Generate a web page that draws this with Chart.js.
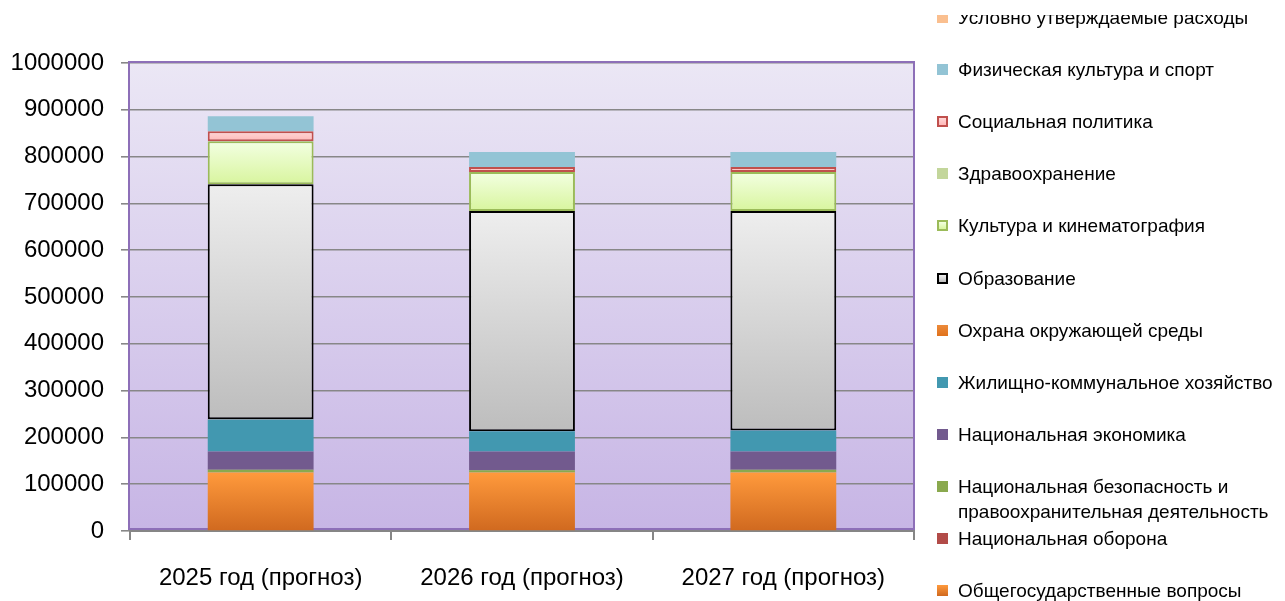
<!DOCTYPE html>
<html>
<head>
<meta charset="utf-8">
<script src="https://cdn.jsdelivr.net/npm/chart.js@4"></script>
<style>
  body { margin: 0; background: #fff; }
  #wrap { position: relative; width: 1285px; height: 601px; overflow: hidden; }
  #legend { position: absolute; left: 0; top: 15px; width: 1285px; height: 586px; overflow: hidden; pointer-events: none; }
  .item { position: absolute; left: 937px; font: 19px "Liberation Sans", Arial, sans-serif; color: #000; line-height: 25px; }
  .box { position: absolute; left: 0; top: 7px; width: 11px; height: 11px; box-sizing: border-box; }
  .txt { position: absolute; left: 21px; top: 0; white-space: pre; }
</style>
</head>
<body>
<div id="wrap">
  <canvas id="chart" width="1285" height="601"></canvas>
  <div id="legend"></div>
</div>
<script>
// categories and series, bottom of the stack first
var categories = ['2025 год (прогноз)', '2026 год (прогноз)', '2027 год (прогноз)'];

var obshchegos  = [125000, 125000, 125000];
var oborona     = [0, 0, 0];
var bezopasnost = [6000, 5000, 6000];
var ekonomika   = [39000, 40000, 39000];
var zhkh        = [68000, 43000, 45000];
var okhrana     = [1000, 0, 0];
var obrazovanie = [502000, 471000, 469000];
var kultura     = [92000, 83000, 83000];
var zdrav       = [0, 0, 0];
var socpol      = [21000, 11000, 11000];
var sport       = [32000, 32000, 32000];
var uslovno     = [0, 0, 0];

var yTicksMax = 1000000;
var yTicksStep = 100000;

var series = [
    { name: 'Общегосударственные вопросы', data: obshchegos, top: '#ff9a3c', bottom: '#d0691f', border: null },
    { name: 'Национальная оборона', data: oborona, top: '#b24b48', bottom: '#b24b48', border: null },
    { name: 'Национальная безопасность и\nправоохранительная деятельность', data: bezopasnost, top: '#8aa94e', bottom: '#8aa94e', border: null },
    { name: 'Национальная экономика', data: ekonomika, top: '#725a8e', bottom: '#725a8e', border: null },
    { name: 'Жилищно-коммунальное хозяйство', data: zhkh, top: '#4298b0', bottom: '#4298b0', border: null },
    { name: 'Охрана окружающей среды', data: okhrana, top: '#ec8a3a', bottom: '#e0721c', border: null },
    { name: 'Образование', data: obrazovanie, top: '#eeeeee', bottom: '#bdbdbd', border: '#000000' },
    { name: 'Культура и кинематография', data: kultura, top: '#f3ffe2', bottom: '#d8f59e', border: '#9bbb59' },
    { name: 'Здравоохранение', data: zdrav, top: '#c3d69b', bottom: '#c3d69b', border: null },
    { name: 'Социальная политика', data: socpol, top: '#ffd6d6', bottom: '#ffb9b9', border: '#c0504d' },
    { name: 'Физическая культура и спорт', data: sport, top: '#93c4d5', bottom: '#93c4d5', border: null },
    { name: 'Условно утверждаемые расходы', data: uslovno, top: '#fabf8f', bottom: '#fabf8f', border: null }
];

function segGradient(c, s) {
    var chart = c.chart;
    if (c.type !== 'data' || !chart.chartArea || !chart.scales.y) return s.bottom;
    var start = 0;
    for (var i = 0; i < c.datasetIndex; i++) start += series[i].data[c.dataIndex];
    var end = start + s.data[c.dataIndex];
    var y0 = chart.scales.y.getPixelForValue(end);
    var y1 = chart.scales.y.getPixelForValue(start);
    if (y1 - y0 < 1) return s.bottom;
    var g = chart.ctx.createLinearGradient(0, y0, 0, y1);
    g.addColorStop(0, s.top);
    g.addColorStop(1, s.bottom);
    return g;
}

var datasets = series.map(function (s) {
    return {
        label: s.name,
        data: s.data,
        backgroundColor: function (c) { return segGradient(c, s); },
        borderColor: s.border || 'rgba(0,0,0,0)',
        borderWidth: s.border ? 2 : 0,
        borderSkipped: false,
        categoryPercentage: 1,
        barPercentage: 0.405
    };
});

var plotBg = {
    id: 'plotBg',
    beforeDraw: function (chart) {
        var ctx = chart.ctx, a = chart.chartArea;
        var g = ctx.createLinearGradient(0, a.top, 0, a.bottom);
        g.addColorStop(0, '#ebe7f5');
        g.addColorStop(1, '#c7b5e5');
        ctx.save();
        ctx.fillStyle = g;
        ctx.fillRect(a.left, a.top, a.right - a.left, a.bottom - a.top);
        ctx.restore();
    },
    beforeDatasetsDraw: function (chart) {
        var ctx = chart.ctx, a = chart.chartArea;
        ctx.save();
        ctx.strokeStyle = '#8d6fb8';
        ctx.lineWidth = 2;
        ctx.strokeRect(a.left - 1, a.top - 1, a.right - a.left + 1, a.bottom - a.top - 1);
        ctx.restore();
    }
};

new Chart(document.getElementById('chart'), {
    type: 'bar',
    data: { labels: categories, datasets: datasets },
    plugins: [plotBg],
    options: {
        responsive: false,
        animation: false,
        layout: { padding: { top: 63, right: 371, left: 0, bottom: 0 } },
        plugins: { legend: { display: false }, tooltip: { enabled: false } },
        scales: {
            x: {
                stacked: true,
                afterFit: function (s) { s.height = 70; },
                grid: { drawOnChartArea: false, offset: true, tickLength: 9, color: '#868686', lineWidth: 2 },
                border: { color: '#868686', width: 2 },
                ticks: { color: '#000', padding: 24, font: { family: 'Liberation Sans', size: 24 } }
            },
            y: {
                stacked: true,
                min: 0,
                max: yTicksMax,
                afterFit: function (s) { s.width = 130; },
                grid: { color: '#878787', lineWidth: 1.6, tickLength: 9 },
                border: { display: false },
                ticks: {
                    stepSize: yTicksStep, color: '#000', padding: 17,
                    font: { family: 'Liberation Sans', size: 24 },
                    callback: function (v) { return String(v); }
                }
            }
        }
    }
});

// legend on the right, top entry first
var legend = document.getElementById('legend');
series.slice().reverse().forEach(function (s, i) {
    var item = document.createElement('div');
    item.className = 'item';
    item.style.top = (19 + i * 52.1 - 12.5 - 1.5 - 15) + 'px';
    var box = document.createElement('div');
    box.className = 'box';
    box.style.background = 'linear-gradient(' + s.top + ',' + s.bottom + ')';
    if (s.border) box.style.border = '2px solid ' + s.border;
    var txt = document.createElement('div');
    txt.className = 'txt';
    txt.textContent = s.name;
    item.appendChild(box);
    item.appendChild(txt);
    legend.appendChild(item);
});
</script>
</body>
</html>
